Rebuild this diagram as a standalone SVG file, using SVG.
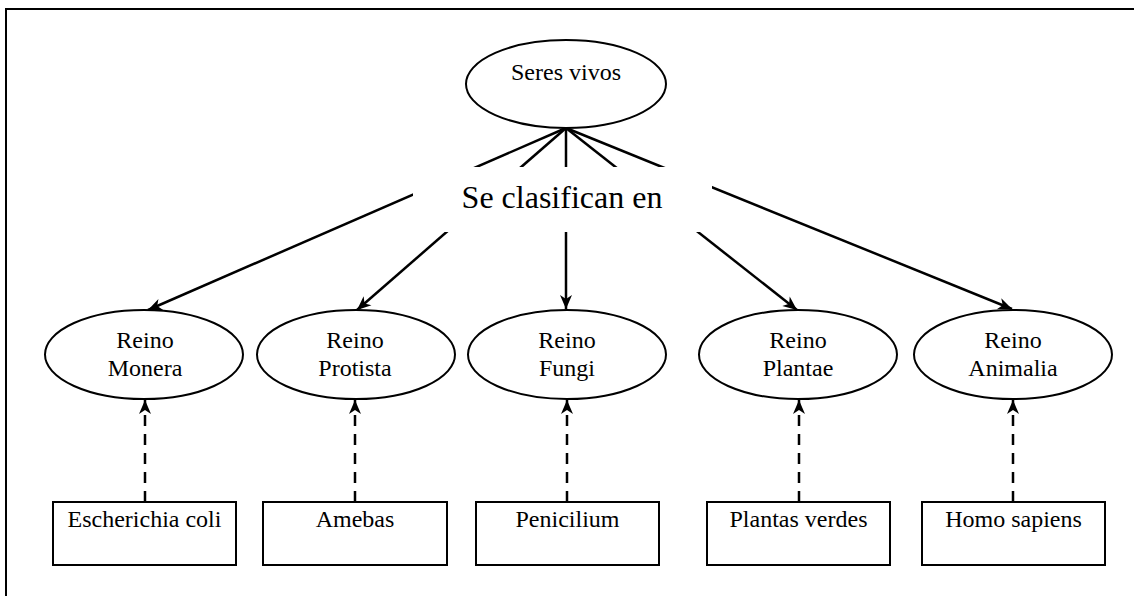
<svg xmlns="http://www.w3.org/2000/svg" width="1134" height="596" viewBox="0 0 1134 596">
<style>
.t{font-family:"Liberation Serif","Times New Roman",serif;font-size:24px;fill:#000;text-anchor:middle}
.big{font-size:32px}
.shape{fill:#fff;stroke:#000;stroke-width:2}
.ln{stroke:#000;stroke-width:2.5;fill:none}
.dash{stroke-dasharray:11 8}
</style>
<defs>
<marker id="arr" markerUnits="userSpaceOnUse" viewBox="-15 -8 16 16" refX="0" refY="0" markerWidth="16" markerHeight="16" orient="auto">
<path d="M0,0 L-14,-6 L-10,0 L-14,6 Z" fill="#000"/>
</marker>
</defs>
<rect width="1134" height="596" fill="#fff"/>
<rect id="border" x="6" y="9" width="1140" height="600" fill="none" stroke="#000" stroke-width="2"/>
<g id="connectors">
<line class="ln" x1="566" y1="128" x2="148" y2="310" marker-end="url(#arr)"/>
<line class="ln" x1="566" y1="128" x2="357" y2="310" marker-end="url(#arr)"/>
<line class="ln" x1="566" y1="128" x2="566" y2="309" marker-end="url(#arr)"/>
<line class="ln" x1="566" y1="128" x2="797" y2="310" marker-end="url(#arr)"/>
<line class="ln" x1="566" y1="128" x2="1012" y2="309" marker-end="url(#arr)"/>
<line class="ln dash" x1="145" y1="502" x2="145" y2="400" marker-end="url(#arr)"/>
<line class="ln dash" x1="355" y1="502" x2="355" y2="400" marker-end="url(#arr)"/>
<line class="ln dash" x1="567" y1="502" x2="567" y2="400" marker-end="url(#arr)"/>
<line class="ln dash" x1="799" y1="502" x2="799" y2="400" marker-end="url(#arr)"/>
<line class="ln dash" x1="1013" y1="502" x2="1013" y2="400" marker-end="url(#arr)"/>
</g>
<g id="seres-vivos">
<ellipse class="shape" cx="566" cy="84" rx="100" ry="44"/>
<text class="t" x="566" y="80">Seres vivos</text>
</g>
<g id="se-clasifican">
<rect x="413" y="167" width="299" height="65" fill="#fff"/>
<text class="t big" x="562" y="208">Se clasifican en</text>
</g>
<g id="reino-monera">
<ellipse class="shape" cx="144" cy="354.5" rx="99" ry="44.5"/>
<text class="t" x="145" y="348">Reino</text>
<text class="t" x="145" y="376">Monera</text>
</g>
<g id="reino-protista">
<ellipse class="shape" cx="356" cy="354.5" rx="99" ry="44.5"/>
<text class="t" x="355" y="348">Reino</text>
<text class="t" x="355" y="376">Protista</text>
</g>
<g id="reino-fungi">
<ellipse class="shape" cx="567" cy="354.5" rx="99" ry="44.5"/>
<text class="t" x="567" y="348">Reino</text>
<text class="t" x="567" y="376">Fungi</text>
</g>
<g id="reino-plantae">
<ellipse class="shape" cx="798" cy="354.5" rx="99" ry="44.5"/>
<text class="t" x="798" y="348">Reino</text>
<text class="t" x="798" y="376">Plantae</text>
</g>
<g id="reino-animalia">
<ellipse class="shape" cx="1013" cy="354.5" rx="99" ry="44.5"/>
<text class="t" x="1013" y="348">Reino</text>
<text class="t" x="1013" y="376">Animalia</text>
</g>
<g id="escherichia-coli">
<rect class="shape" x="53" y="502" width="183" height="63"/>
<text class="t" x="144.5" y="527">Escherichia coli</text>
</g>
<g id="amebas">
<rect class="shape" x="263" y="502" width="184" height="63"/>
<text class="t" x="355" y="527">Amebas</text>
</g>
<g id="penicilium">
<rect class="shape" x="476" y="502" width="183" height="63"/>
<text class="t" x="567.5" y="527">Penicilium</text>
</g>
<g id="plantas-verdes">
<rect class="shape" x="707" y="502" width="183" height="63"/>
<text class="t" x="798.5" y="527">Plantas verdes</text>
</g>
<g id="homo-sapiens">
<rect class="shape" x="922" y="502" width="183" height="63"/>
<text class="t" x="1013.5" y="527">Homo sapiens</text>
</g>
</svg>
